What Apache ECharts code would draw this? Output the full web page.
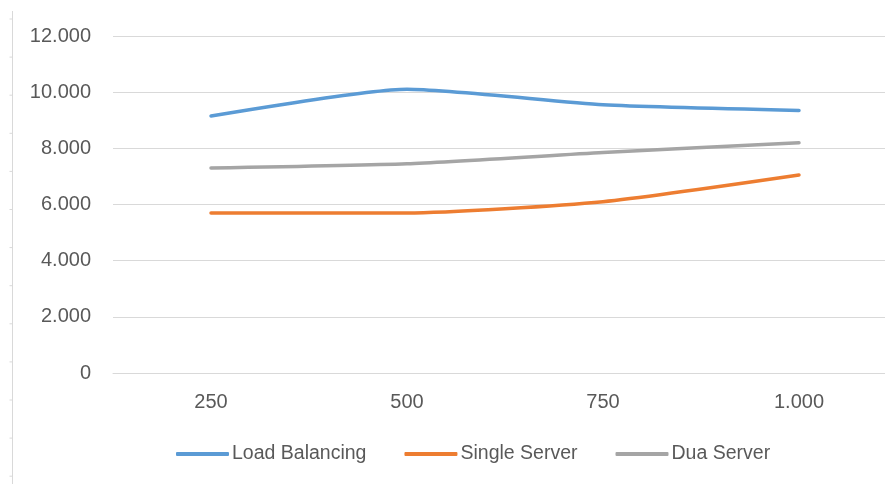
<!DOCTYPE html>
<html>
<head>
<meta charset="utf-8">
<title>Load Balancing vs Single Server vs Dua Server</title>
<script src="https://cdn.jsdelivr.net/npm/echarts@6/dist/echarts.min.js"></script>
<style>
  html, body { margin: 0; padding: 0; background: #ffffff; overflow: hidden; }
  /* the plot runs slightly past the right edge of the window */
  #chart { width: 897px; height: 484px; }
</style>
</head>
<body>
<div id="chart"></div>
<script>
// Request counts on the category axis
const categories = ['250', '500', '750', '1.000'];

// Series values
const loadBalancing = [9150, 10100, 9550, 9350];
const singleServer = [5700, 5700, 6100, 7050];
const duaServer = [7300, 7450, 7850, 8200];

// Value axis ticks
const yMin = 0;
const yMax = 12000;
const yStep = 2000;

// Thousands separator as a dot (Indonesian style)
function fmtThousands(v) {
  return String(Math.round(v)).replace(/\B(?=(\d{3})+(?!\d))/g, '.');
}

const textColor = '#595959';
const gridColor = '#d9d9d9';
const font = 'Liberation Sans';

// Thin ruler line with small ticks along the left edge
const rulerTicks = [];
for (let i = 0; i < 13; i++) {
  const y = 19 + i * 38.1;
  rulerTicks.push({
    type: 'line',
    shape: { x1: 9.5, y1: y, x2: 12.5, y2: y },
    style: { stroke: gridColor, lineWidth: 1 },
    silent: true
  });
}

const chart = echarts.init(document.getElementById('chart'), null, { renderer: 'canvas' });

const lineSeries = (name, data, color) => ({
  name: name,
  type: 'line',
  data: data,
  smooth: 0.2,
  showSymbol: false,
  symbol: 'none',
  lineStyle: { color: color, width: 3.5, cap: 'round', join: 'round' },
  itemStyle: { color: color },
  emphasis: { disabled: true },
  animation: false
});

chart.setOption({
  backgroundColor: '#ffffff',
  animation: false,
  textStyle: { fontFamily: font },
  grid: { left: 113, top: 36, right: 0, height: 337, containLabel: false },
  xAxis: {
    type: 'category',
    data: categories,
    boundaryGap: true,
    axisLine: { show: true, lineStyle: { color: gridColor, width: 1 } },
    axisTick: { show: false },
    axisLabel: { color: textColor, fontSize: 20, fontFamily: font, margin: 19 }
  },
  yAxis: {
    type: 'value',
    min: yMin,
    max: yMax,
    interval: yStep,
    axisLine: { show: false },
    axisTick: { show: false },
    splitLine: { show: true, lineStyle: { color: gridColor, width: 1 } },
    axisLabel: {
      color: textColor,
      fontSize: 20,
      fontFamily: font,
      margin: 22,
      formatter: fmtThousands
    }
  },
  legend: {
    left: 171,
    top: 439,
    itemWidth: 53,
    itemHeight: 4,
    itemGap: 38,
    icon: 'roundRect',
    selectedMode: false,
    textStyle: { color: textColor, fontSize: 19.5, fontFamily: font, padding: [0, 0, 0, -2] },
    data: ['Load Balancing', 'Single Server', 'Dua Server']
  },
  graphic: [
    {
      type: 'line',
      shape: { x1: 12.5, y1: 11, x2: 12.5, y2: 484 },
      style: { stroke: gridColor, lineWidth: 1 },
      silent: true
    }
  ].concat(rulerTicks),
  series: [
    lineSeries('Load Balancing', loadBalancing, '#5b9bd5'),
    lineSeries('Single Server', singleServer, '#ed7d31'),
    lineSeries('Dua Server', duaServer, '#a5a5a5')
  ]
});
</script>
</body>
</html>
